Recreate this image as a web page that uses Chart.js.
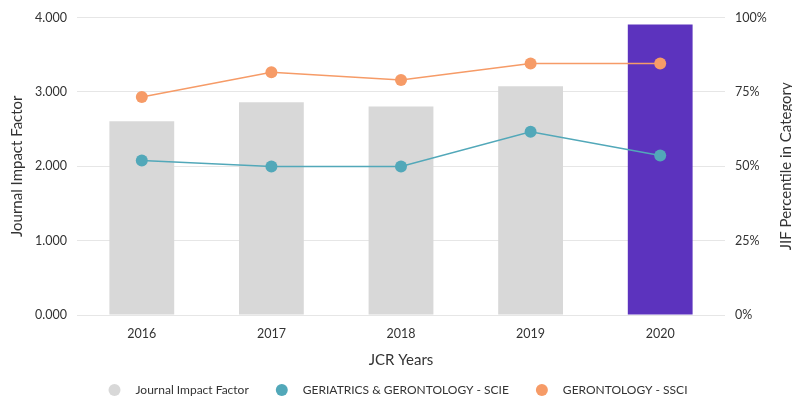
<!DOCTYPE html>
<html>
<head>
<meta charset="utf-8">
<script src="https://cdn.jsdelivr.net/npm/chart.js@4"></script>
<style>
  html, body { margin: 0; padding: 0; background: #ffffff; }
  #wrap { width: 792px; height: 404px; position: relative; }
</style>
</head>
<body>
<div id="wrap"><canvas id="jifChart"></canvas></div>
<script>
"use strict";

/*==========================================================
    JIF chart data
==========================================================*/

const years = ["2016", "2017", "2018", "2019", "2020"];

const impactFactor = [2.604, 2.859, 2.805, 3.074, 3.906];

const geriatricsPercentile = [51.9, 49.9, 49.9, 61.6, 53.6];

const gerontologyPercentile = [73.3, 81.6, 79.0, 84.5, 84.5];

const seriesNames = [
    "Journal Impact Factor",
    "GERIATRICS & GERONTOLOGY - SCIE",
    "GERONTOLOGY - SSCI"
];

const impactTicks = [0, 1, 2, 3, 4];
const percentTicks = [0, 25, 50, 75, 100];


/*==========================================================
    STYLE
==========================================================*/

const FONT = "Lato, 'Noto Sans', sans-serif";
const TEXT = "#333333";
const GRID = "#e6e6e6";

const BAR_GREY = "#d8d8d8";
const BAR_CURRENT = "#5c33be";
const TEAL = "#52a8b9";
const ORANGE = "#f69b67";

const legendColors = [BAR_GREY, TEAL, ORANGE];


/*==========================================================
    PLUGIN: bottom legend + right axis title (reads upward)
    Chart.js rotates a right-hand title the other way, so
    both are drawn here instead.
==========================================================*/

const extrasPlugin = {

    id: "jifExtras",

    afterDraw(chart) {

        const ctx = chart.ctx;
        const area = chart.chartArea;

        ctx.save();

        // right title
        ctx.fillStyle = TEXT;
        ctx.font = `15px ${FONT}`;
        ctx.textAlign = "center";
        ctx.textBaseline = "middle";
        ctx.translate(786, (area.top + area.bottom) / 2);
        ctx.rotate(-Math.PI / 2);
        ctx.fillText("JIF Percentile in Category", 0, 0);
        ctx.setTransform(1, 0, 0, 1, 0, 0);

        // legend
        ctx.font = `12px ${FONT}`;
        ctx.textAlign = "left";

        const dotR = 6;
        const dotToText = 21;
        const itemGap = 33;
        const legendY = 390;
        const centerX = 398;

        const widths = seriesNames.map((n) => ctx.measureText(n).width);

        let total = dotR;
        widths.forEach((w, i) => {
            total += dotToText + w + (i < widths.length - 1 ? itemGap : 0);
        });

        let x = centerX - total / 2 + dotR;

        seriesNames.forEach((name, i) => {

            ctx.fillStyle = legendColors[i];
            ctx.beginPath();
            ctx.arc(x, legendY, dotR, 0, Math.PI * 2);
            ctx.fill();

            ctx.fillStyle = TEXT;
            ctx.fillText(name, x + dotToText, legendY);

            x += dotToText + widths[i] + itemGap;

        });

        ctx.restore();

    }

};


/*==========================================================
    CHART
==========================================================*/

new Chart(document.getElementById("jifChart"), {

    type: "bar",

    data: {

        labels: years,

        datasets: [

            {
                label: seriesNames[0],
                data: impactFactor,
                backgroundColor: years.map((_, i) =>
                    i === years.length - 1 ? BAR_CURRENT : BAR_GREY
                ),
                yAxisID: "y",
                categoryPercentage: 1,
                barPercentage: 0.5,
                order: 3
            },

            {
                type: "line",
                label: seriesNames[1],
                data: geriatricsPercentile,
                borderColor: TEAL,
                backgroundColor: TEAL,
                borderWidth: 1.5,
                pointRadius: 6,
                pointBorderWidth: 0,
                yAxisID: "y1",
                order: 1
            },

            {
                type: "line",
                label: seriesNames[2],
                data: gerontologyPercentile,
                borderColor: ORANGE,
                backgroundColor: ORANGE,
                borderWidth: 1.5,
                pointRadius: 6,
                pointBorderWidth: 0,
                yAxisID: "y1",
                order: 2
            }

        ]

    },

    options: {

        responsive: true,
        maintainAspectRatio: false,
        animation: false,

        layout: {
            padding: { top: 17, left: 0, right: 0, bottom: 33 }
        },

        scales: {

            x: {
                grid: { display: false, drawTicks: false },
                border: { display: false },
                ticks: {
                    color: TEXT,
                    padding: 11,
                    font: { family: FONT, size: 12.5 }
                },
                title: {
                    display: true,
                    text: "JCR Years",
                    color: TEXT,
                    font: { family: FONT, size: 15 },
                    padding: { top: 0, bottom: 2 }
                },
                afterFit(scale) { scale.height = 56; }
            },

            y: {
                position: "left",
                min: 0,
                max: 4,
                afterBuildTicks(scale) {
                    scale.ticks = impactTicks.map((v) => ({ value: v }));
                },
                grid: { color: GRID, drawTicks: false, lineWidth: 1 },
                border: { display: false },
                ticks: {
                    color: TEXT,
                    padding: 10,
                    font: { family: FONT, size: 12.5 },
                    callback: (v) => Number(v).toFixed(3)
                },
                title: {
                    display: true,
                    text: "Journal Impact Factor",
                    color: TEXT,
                    font: { family: FONT, size: 15 },
                    padding: { top: 8, bottom: 0 }
                },
                afterFit(scale) { scale.width = 77; }
            },

            y1: {
                position: "right",
                min: 0,
                max: 100,
                afterBuildTicks(scale) {
                    scale.ticks = percentTicks.map((v) => ({ value: v }));
                },
                grid: { display: false, drawTicks: false },
                border: { display: false },
                ticks: {
                    color: TEXT,
                    padding: 10,
                    font: { family: FONT, size: 12.5 },
                    callback: (v) => v + "%"
                },
                title: { display: false },
                afterFit(scale) { scale.width = 67; }
            }

        },

        plugins: {

            legend: { display: false },

            tooltip: { enabled: false }

        }

    },

    plugins: [extrasPlugin]

});
</script>
</body>
</html>
